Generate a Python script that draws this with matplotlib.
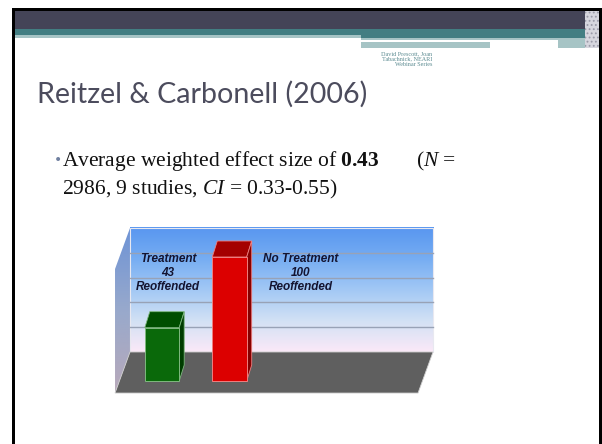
import matplotlib
matplotlib.use("Agg")
import matplotlib.pyplot as plt
import numpy as np
from matplotlib.patches import Rectangle, Polygon
from matplotlib.colors import LinearSegmentedColormap

# dados do grafico
grupos = ["Treatment", "No Treatment"]
reincidencia = [43, 100]
rotulo_base = "Reoffended"
grade = [20, 40, 60, 80]

COR_FRENTE = ["#0a690a", "#dc0000"]
COR_TOPO = ["#004e00", "#a40000"]
COR_LADO = ["#003c00", "#860000"]
COR_BORDA = ["#7fb87f", "#ef8080"]

plt.rcParams["mathtext.fontset"] = "custom"
plt.rcParams["mathtext.rm"] = "Liberation Serif"
plt.rcParams["mathtext.it"] = "Liberation Serif:italic"
plt.rcParams["mathtext.bf"] = "Liberation Serif:bold"
plt.rcParams["hatch.linewidth"] = 0.8

W, H = 602, 444
fig = plt.figure(figsize=(W / 100, H / 100), dpi=100)

# fundo do slide em pixels
bg = fig.add_axes([0, 0, 1, 1])
bg.set_xlim(0, W)
bg.set_ylim(H, 0)
bg.axis("off")


def ret(x0, y0, x1, y1, cor, **kw):
    kw.setdefault("edgecolor", "none")
    bg.add_patch(Rectangle((x0, y0), x1 - x0, y1 - y0, facecolor=cor, **kw))


ret(15, 11, 599, 29, "#444457")
ret(15, 29, 585, 35, "#427e82")
ret(361, 35, 585, 38, "#427e82")
ret(15, 35, 361, 38, "#a6c4c5")
ret(361, 38, 585, 48, "#a6c4c5")
ret(361, 40, 558, 42.5, "white")
ret(490, 42.5, 558, 48, "white")
ret(585, 11, 599, 48, "#d6d6de", hatch="....", edgecolor="#9a9aa8", lw=0)
ret(12, 8, 602, 11, "black")
ret(12, 8, 15, H, "black")
ret(599, 8, 602, H, "black")

bg.text(432, 59, "David Prescott, Joan\nTabachnick, NEARI\nWebinar Series",
        family="Liberation Serif", fontsize=4.4, color="#5a8a90",
        ha="right", va="center", linespacing=1.0)

bg.text(37, 103, "Reitzel & Carbonell (2006)", family="Lato",
        fontsize=20.6, color="#4c4c5d", ha="left", va="baseline")

bg.text(54, 160, "\u2022", fontsize=10, color="#7080a0", ha="left", va="center")
bg.text(62, 166, r"Average weighted effect size of $\mathbf{0.43}$",
        family="Liberation Serif", fontsize=15.5, color="#111111", va="baseline")
bg.text(416, 166, r"($N$ =", family="Liberation Serif", fontsize=15.5,
        color="#111111", va="baseline")
bg.text(62, 194, r"2986, 9 studies, $CI$ = 0.33-0.55)",
        family="Liberation Serif", fontsize=15.5, color="#111111", va="baseline")

# grafico 3D falso: eixo em unidades de valor (y) e de categoria (x)
PX_Y = 1.24      # pixels por unidade de valor
PX_X = 67.5      # pixels por categoria
X0, Y0 = 162, 381  # pixel da categoria 0 / valor 0
cx0, cx1, cy0, cy1 = 100, 450, 210, 410
cax = fig.add_axes([cx0 / W, 1 - cy1 / H, (cx1 - cx0) / W, (cy1 - cy0) / H])
cax.set_xlim((cx0 - X0) / PX_X, (cx1 - X0) / PX_X)
cax.set_ylim((Y0 - cy1) / PX_Y, (Y0 - cy0) / PX_Y)
cax.axis("off")
cax.patch.set_alpha(0)

# profundidade
PAREDE_DV = 23.4
FUNDO_DU = 0.222
FRENTE_V = -9.7
esq = -0.474
dir_ = 4.015
topo = PAREDE_DV + 100

# parede do fundo com gradiente
cm_fundo = LinearSegmentedColormap.from_list(
    "f", ["#fbe9f8", "#d2e1f4", "#a2c8f5", "#76adf2", "#5896f0"])
grad = np.linspace(0, 1, 256).reshape(-1, 1)
cax.imshow(grad, cmap=cm_fundo, origin="lower", aspect="auto",
           extent=(esq, dir_, PAREDE_DV, topo), zorder=1)
cax.add_patch(Rectangle((esq, PAREDE_DV), dir_ - esq, 100, facecolor="none",
                        edgecolor="#e8e8f0", lw=0.8, zorder=2))
for g in grade:
    cax.plot([esq, dir_], [PAREDE_DV + g] * 2, color="#98a2b6", lw=1.0, zorder=2)

# parede lateral
lado = Polygon([(esq, PAREDE_DV), (esq, topo),
                (esq - FUNDO_DU, topo - (PAREDE_DV - FRENTE_V)),
                (esq - FUNDO_DU, FRENTE_V)], closed=True, facecolor="none",
               edgecolor="none")
cax.add_patch(lado)
cm_lado = LinearSegmentedColormap.from_list("l", ["#b9a9ba", "#98a9cc", "#6d93d6"])
im2 = cax.imshow(grad, cmap=cm_lado, origin="lower", aspect="auto",
                 extent=(esq - FUNDO_DU, esq, FRENTE_V, topo), zorder=1)
im2.set_clip_path(lado)

# chao
chao = Polygon([(esq, PAREDE_DV), (dir_, PAREDE_DV), (dir_ - FUNDO_DU, FRENTE_V),
                (esq - FUNDO_DU, FRENTE_V)], closed=True, facecolor="#5f5f5f",
               edgecolor="#d0d0d0", lw=0.6, zorder=3)
cax.add_patch(chao)

# barras
pos = np.arange(len(grupos))
larg = 0.51
du, dv = 0.074, 12.9
cax.bar(pos, reincidencia, width=larg, color=COR_FRENTE, edgecolor=COR_BORDA,
        lw=0.7, zorder=6)
for p, v, ct, cl, cb in zip(pos, reincidencia, COR_TOPO, COR_LADO, COR_BORDA):
    a, b = p - larg / 2, p + larg / 2
    cax.add_patch(Polygon([(a, v), (b, v), (b + du, v + dv), (a + du, v + dv)],
                          closed=True, facecolor=ct, edgecolor=cb, lw=0.6, zorder=5))
    cax.add_patch(Polygon([(b, 0), (b + du, dv), (b + du, v + dv), (b, v)],
                          closed=True, facecolor=cl, edgecolor=cb, lw=0.6, zorder=5))

# rotulos
pos_rot = [0.09, 2.06]
for x, nome, v in zip(pos_rot, grupos, reincidencia):
    cax.text(x, 87, f"{nome}\n{v}\n{rotulo_base}", family="Liberation Sans",
             weight="bold", style="italic", fontsize=8.5, color="#141430",
             ha="center", va="center", linespacing=1.22, zorder=7)

fig.savefig("out.png", dpi=100)
